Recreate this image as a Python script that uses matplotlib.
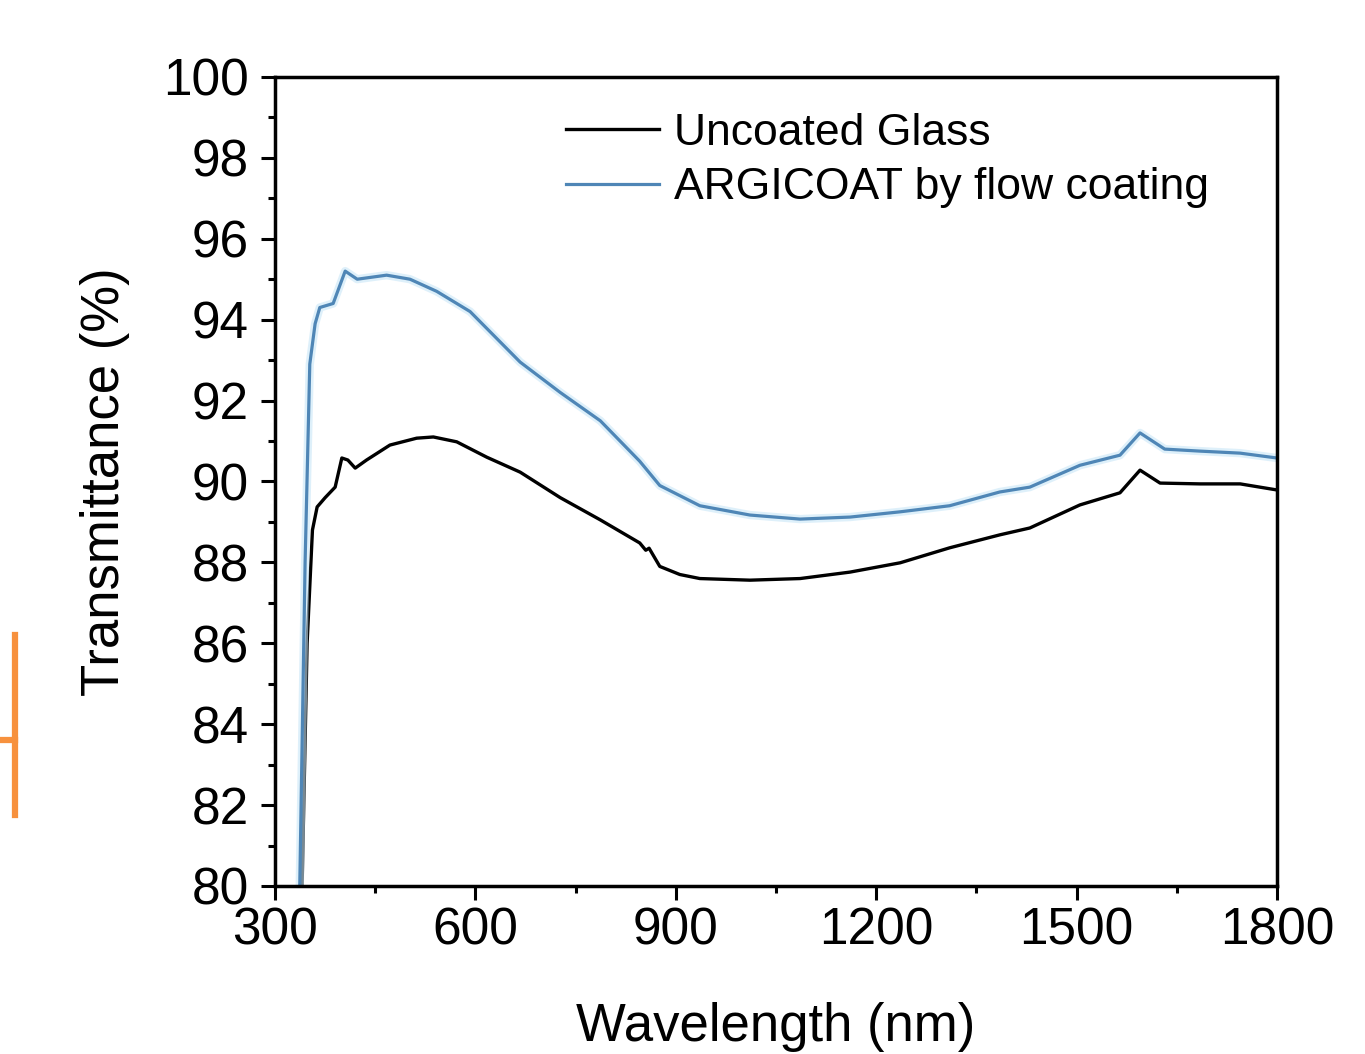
import matplotlib
matplotlib.use("Agg")
import matplotlib.pyplot as plt
from matplotlib.lines import Line2D
from matplotlib.ticker import MultipleLocator

plt.rcParams['font.family'] = ['Liberation Sans', 'DejaVu Sans']

# wavelength (nm) and transmittance (%)
uncoated_wl = [338, 348, 356, 363, 375, 390, 400, 409, 420, 437, 472, 512, 537,
               572, 617, 667, 727, 787, 846, 855, 860, 876, 906, 936, 1011,
               1086, 1161, 1236, 1310, 1385, 1430, 1505, 1565, 1595, 1625,
               1685, 1745, 1800]
uncoated_t = [78, 86, 88.8, 89.37, 89.6, 89.86, 90.58, 90.53, 90.33, 90.53, 90.9,
              91.07, 91.1, 90.98, 90.6, 90.23, 89.6, 89.05, 88.48, 88.3, 88.35,
              87.9, 87.7, 87.6, 87.56, 87.6, 87.76, 87.99, 88.36, 88.68, 88.85,
              89.42, 89.72, 90.28, 89.96, 89.94, 89.94, 89.79]

coated_wl = [335, 345, 352, 360, 367, 387, 405, 423, 467, 502, 542, 592, 667,
             727, 787, 846, 876, 936, 1011, 1086, 1161, 1236, 1310, 1385, 1430,
             1505, 1565, 1595, 1632, 1685, 1745, 1800]
coated_t = [78, 88, 92.9, 93.9, 94.3, 94.4, 95.2, 95.0, 95.1, 95.0, 94.7, 94.2,
            92.95, 92.2, 91.5, 90.5, 89.9, 89.4, 89.17, 89.07, 89.12, 89.25,
            89.4, 89.74, 89.86, 90.4, 90.65, 91.2, 90.8, 90.75, 90.7, 90.58]

fig = plt.figure(figsize=(13.65, 10.54), dpi=100)
ax = fig.add_axes([0.2015, 0.1594, 0.734, 0.7676])

ax.plot(uncoated_wl, uncoated_t, color='black', lw=2.4, label='Uncoated Glass')
ax.plot(coated_wl, coated_t, color='#c9e6f7', lw=6, alpha=0.6)
ax.plot(coated_wl, coated_t, color='#4f86b6', lw=2.3, label='ARGICOAT by flow coating')

ax.set_xlim(300, 1800)
ax.set_ylim(80, 100)
ax.xaxis.set_major_locator(MultipleLocator(300))
ax.xaxis.set_minor_locator(MultipleLocator(150))
ax.yaxis.set_major_locator(MultipleLocator(2))
ax.yaxis.set_minor_locator(MultipleLocator(1))
ax.tick_params(which='major', direction='out', length=10, width=2.2,
               labelsize=37, pad=5)
ax.tick_params(axis='y', which='major', pad=9)
ax.tick_params(which='minor', direction='out', length=5, width=2.2)
for s in ax.spines.values():
    s.set_linewidth(2.5)

ax.set_xlabel('Wavelength (nm)', fontsize=38, labelpad=33)
ax.set_ylabel('Transmittance (%)', fontsize=38, labelpad=24)

leg = ax.legend(handles=[ax.lines[0], ax.lines[2]], loc='upper left',
                bbox_to_anchor=(0.25, 1.005), frameon=False, fontsize=32,
                handlelength=2.1, handletextpad=0.35, labelspacing=0.3)

# orange mark at the left edge of the picture
fig.add_artist(Line2D([15 / 1365, 15 / 1365], [1 - 635 / 1054, 1 - 815 / 1054],
                      color='#f7913d', lw=4.5, transform=fig.transFigure))
fig.add_artist(Line2D([0, 15 / 1365], [1 - 740 / 1054, 1 - 740 / 1054],
                      color='#f7913d', lw=4.5, transform=fig.transFigure))

fig.savefig('out.png', dpi=100)
